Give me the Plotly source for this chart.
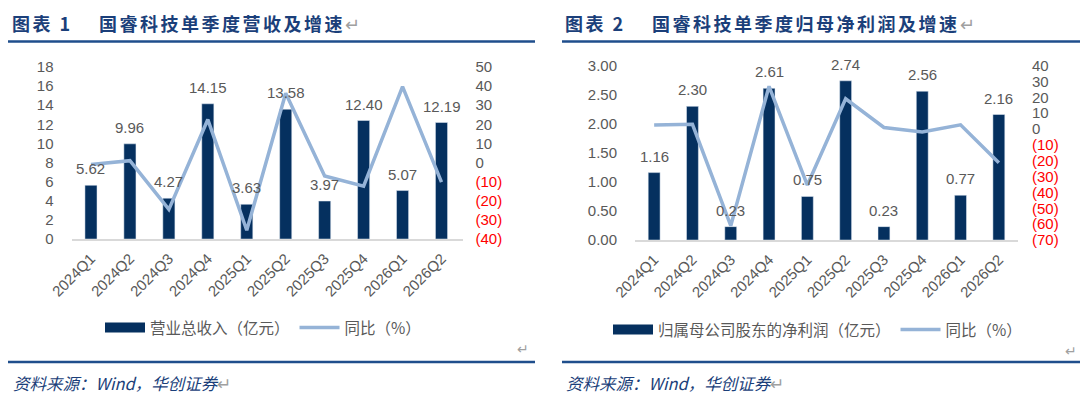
import plotly.graph_objects as go

quarters = ["2024Q1", "2024Q2", "2024Q3", "2024Q4", "2025Q1",
            "2025Q2", "2025Q3", "2025Q4", "2026Q1", "2026Q2"]
revenue = [5.62, 9.96, 4.27, 14.15, 3.63, 13.58, 3.97, 12.40, 5.07, 12.19]
revenue_yoy = [-1.0, 1.0, -24.5, 22.5, -35.4, 36.3, -7.0, -12.4, 39.7, -10.2]
net_profit = [1.16, 2.30, 0.23, 2.61, 0.75, 2.74, 0.23, 2.56, 0.77, 2.16]
profit_yoy = [2.5, 3.0, -61.0, 27.0, -35.3, 19.1, 1.0, -1.9, 2.7, -21.2]

rev_left_ticks = list(range(0, 19, 2))
rev_right_ticks = list(range(-40, 51, 10))
np_left_ticks = [0, 0.5, 1.0, 1.5, 2.0, 2.5, 3.0]
np_right_ticks = list(range(-70, 41, 10))

NAVY = "#05305f"
LIGHT = "#95b3d7"
GREY = "#595959"
TITLE_C = "#1b3f7a"
NUM_FONT = "Liberation Sans"
CJK = "Noto Sans CJK SC"


def pct_label(v):
    if v < 0:
        return "<span style='color:#ff0000'>(%d)</span>" % abs(v)
    return "%d" % v


fig = go.Figure()

# ---- left chart
fig.add_trace(go.Bar(x=quarters, y=revenue, marker_color=NAVY, width=0.31,
                     xaxis="x", yaxis="y", showlegend=False, legend="legend"))
fig.add_trace(go.Scatter(x=[None], y=[None], mode="lines", name="营业总收入（亿元）",
                         line=dict(color=NAVY, width=10), xaxis="x", yaxis="y",
                         legend="legend"))
fig.add_trace(go.Scatter(x=quarters, y=revenue_yoy, mode="lines", name="同比（%）",
                         line=dict(color=LIGHT, width=3.5), xaxis="x", yaxis="y2",
                         legend="legend"))

# ---- right chart
fig.add_trace(go.Bar(x=quarters, y=net_profit, marker_color=NAVY, width=0.31,
                     xaxis="x2", yaxis="y3", showlegend=False, legend="legend2"))
fig.add_trace(go.Scatter(x=[None], y=[None], mode="lines", name="归属母公司股东的净利润（亿元）",
                         line=dict(color=NAVY, width=10), xaxis="x2", yaxis="y3",
                         legend="legend2"))
fig.add_trace(go.Scatter(x=quarters, y=profit_yoy, mode="lines", name="同比（%）",
                         line=dict(color=LIGHT, width=3.5), xaxis="x2", yaxis="y4",
                         legend="legend2"))

annotations = []
for q, v in zip(quarters, revenue):
    annotations.append(dict(x=q, y=v, xref="x", yref="y", text="%.2f" % v,
                            showarrow=False, yanchor="bottom", yshift=6,
                            font=dict(family=NUM_FONT, size=15, color=GREY)))
for q, v in zip(quarters, net_profit):
    annotations.append(dict(x=q, y=v, xref="x2", yref="y3", text="%.2f" % v,
                            showarrow=False, yanchor="bottom", yshift=6,
                            font=dict(family=NUM_FONT, size=15, color=GREY)))

ret = "<span style='color:#a0a0a0;font-weight:normal;font-style:normal;letter-spacing:0px'>↵</span>"
TSP = "<span style='letter-spacing:2.5px'>"
annotations += [
    dict(x=10, y=23, xref="paper", yref="paper",
         text="<b>" + TSP + "图表 1    国睿科技单季度营收及增速</span></b>" + ret,
         showarrow=False, xanchor="left", yanchor="middle",
         font=dict(family=CJK, size=18, color=TITLE_C)),
    dict(x=563, y=23, xref="paper", yref="paper",
         text="<b>" + TSP + "图表 2    国睿科技单季度归母净利润及增速</span></b>" + ret,
         showarrow=False, xanchor="left", yanchor="middle",
         font=dict(family=CJK, size=18, color=TITLE_C)),
    dict(x=11, y=383, xref="paper", yref="paper", text="<i>资料来源：Wind，华创证券</i>" + ret,
         showarrow=False, xanchor="left", yanchor="middle",
         font=dict(family=CJK, size=16.5, color=TITLE_C)),
    dict(x=564, y=383, xref="paper", yref="paper", text="<i>资料来源：Wind，华创证券</i>" + ret,
         showarrow=False, xanchor="left", yanchor="middle",
         font=dict(family=CJK, size=16.5, color=TITLE_C)),
    dict(x=531, y=348, xref="paper", yref="paper", text=ret, showarrow=False,
         xanchor="right", yanchor="middle", font=dict(family=CJK, size=14)),
    dict(x=1079, y=350, xref="paper", yref="paper", text=ret, showarrow=False,
         xanchor="right", yanchor="middle", font=dict(family=CJK, size=14)),
]
W, H = 1080, 400
for a in annotations:
    if a["xref"] == "paper":
        a["x"] = a["x"] / W
        a["y"] = 1 - a["y"] / H

shapes = [
    dict(type="line", xref="paper", yref="paper", x0=8 / W, x1=535 / W, y0=1 - 41.5 / H, y1=1 - 41.5 / H,
         line=dict(color="#1f4e8c", width=2.5)),
    dict(type="line", xref="paper", yref="paper", x0=562 / W, x1=1.0, y0=1 - 41.5 / H, y1=1 - 41.5 / H,
         line=dict(color="#1f4e8c", width=2.5)),
    dict(type="line", xref="paper", yref="paper", x0=8 / W, x1=535 / W, y0=1 - 362 / H, y1=1 - 362 / H,
         line=dict(color="#1f4e8c", width=2.5)),
    dict(type="line", xref="paper", yref="paper", x0=562 / W, x1=1.0, y0=1 - 362 / H, y1=1 - 362 / H,
         line=dict(color="#1f4e8c", width=2.5)),
]

tickfont = dict(family=NUM_FONT, size=15, color=GREY)
xcommon = dict(type="category", tickangle=-45, showline=True, linecolor="#d9d9d9", linewidth=2,
               showgrid=False, zeroline=False, ticks="", automargin=False,
               tickfont=dict(family=NUM_FONT, size=15, color=GREY), ticklabelstandoff=3)
ycommon = dict(showgrid=False, zeroline=False, showline=False, ticks="", automargin=False,
               tickfont=tickfont)

fig.update_layout(
    width=W, height=H,
    margin=dict(l=0, r=0, t=0, b=0, pad=0),
    paper_bgcolor="white", plot_bgcolor="white",
    xaxis=dict(domain=[71.5 / W, 462.5 / W], anchor="y", **xcommon),
    yaxis=dict(domain=[1 - 239 / H, 1 - 67 / H], anchor="x", range=[0, 18],
               tickvals=rev_left_ticks, ticklabelstandoff=17, **ycommon),
    yaxis2=dict(overlaying="y", side="right", anchor="x", range=[-40, 50],
                tickvals=rev_right_ticks, ticktext=[pct_label(v) for v in rev_right_ticks],
                ticklabelstandoff=12, **ycommon),
    xaxis2=dict(domain=[635 / W, 1018 / W], anchor="y3", **xcommon),
    yaxis3=dict(domain=[1 - 240 / H, 1 - 65.7 / H], anchor="x2", range=[0, 3],
                tickvals=np_left_ticks, tickformat=".2f", ticklabelstandoff=17, **ycommon),
    yaxis4=dict(overlaying="y3", side="right", anchor="x2", range=[-70, 40],
                tickvals=np_right_ticks, ticktext=[pct_label(v) for v in np_right_ticks],
                ticklabelstandoff=13, **ycommon),
    legend=dict(orientation="h", x=100 / W, y=1 - 328 / H, xanchor="left", yanchor="middle",
                font=dict(family=CJK, size=15.5, color=GREY), bgcolor="rgba(0,0,0,0)",
                itemwidth=40, tracegroupgap=0),
    legend2=dict(orientation="h", x=608 / W, y=1 - 330 / H, xanchor="left", yanchor="middle",
                 font=dict(family=CJK, size=15.5, color=GREY), bgcolor="rgba(0,0,0,0)",
                 itemwidth=40, tracegroupgap=0),
    annotations=annotations,
    shapes=shapes,
)

fig.write_html("out.html", config={"displayModeBar": False},
               post_script="document.body.style.margin='0';document.body.style.overflow='hidden';")
